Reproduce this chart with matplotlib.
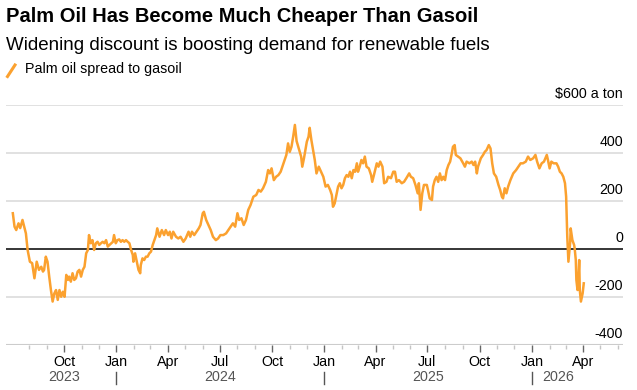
import matplotlib
matplotlib.use("Agg")
import matplotlib.pyplot as plt
import matplotlib.transforms as mtransforms
from matplotlib.lines import Line2D
import pandas as pd

plt.rcParams['font.family'] = ['Liberation Sans', 'DejaVu Sans']

# --- TEXT ---
TITLE = "Palm Oil Has Become Much Cheaper Than Gasoil"
SUBTITLE = "Widening discount is boosting demand for renewable fuels"
SERIES_LABEL = "Palm oil spread to gasoil"
UNIT_LABEL = r"\$600 a ton"

# --- DATA ($/ton) ---
dates = [
    "2023-07-03", "2023-07-06", "2023-07-09", "2023-07-13", "2023-07-16", "2023-07-20", "2023-07-23", "2023-07-26",
    "2023-07-29", "2023-08-02", "2023-08-06", "2023-08-10", "2023-08-14", "2023-08-18", "2023-08-22", "2023-08-25",
    "2023-08-27", "2023-08-30", "2023-09-02", "2023-09-05", "2023-09-08", "2023-09-11", "2023-09-14", "2023-09-17",
    "2023-09-20", "2023-09-23", "2023-09-26", "2023-09-29", "2023-10-02", "2023-10-05", "2023-10-08", "2023-10-10",
    "2023-10-13", "2023-10-16", "2023-10-19", "2023-10-22", "2023-10-25", "2023-10-28", "2023-10-31", "2023-11-03",
    "2023-11-06", "2023-11-09", "2023-11-12", "2023-11-14", "2023-11-17", "2023-11-20", "2023-11-23", "2023-11-26",
    "2023-11-29", "2023-12-02", "2023-12-05", "2023-12-08", "2023-12-11", "2023-12-14", "2023-12-17", "2023-12-20",
    "2023-12-26", "2023-12-28", "2023-12-31", "2024-01-03", "2024-01-06", "2024-01-09", "2024-01-12", "2024-01-15",
    "2024-01-18", "2024-01-21", "2024-01-24", "2024-01-27", "2024-01-30", "2024-01-31", "2024-02-03", "2024-02-06",
    "2024-02-09", "2024-02-12", "2024-02-13", "2024-02-16", "2024-02-19", "2024-02-22", "2024-02-25", "2024-02-28",
    "2024-03-02", "2024-03-05", "2024-03-08", "2024-03-11", "2024-03-13", "2024-03-17", "2024-03-21", "2024-03-25",
    "2024-03-28", "2024-04-01", "2024-04-04", "2024-04-07", "2024-04-10", "2024-04-15", "2024-04-19", "2024-04-23",
    "2024-04-28", "2024-05-02", "2024-05-07", "2024-05-10", "2024-05-13", "2024-05-17", "2024-05-21", "2024-05-25",
    "2024-05-28", "2024-06-01", "2024-06-03", "2024-06-07", "2024-06-11", "2024-06-15", "2024-06-19", "2024-06-24",
    "2024-06-28", "2024-07-02", "2024-07-07", "2024-07-12", "2024-07-16", "2024-07-20", "2024-07-24", "2024-07-28",
    "2024-08-01", "2024-08-04", "2024-08-08", "2024-08-12", "2024-08-16", "2024-08-20", "2024-08-24", "2024-08-29",
    "2024-09-03", "2024-09-07", "2024-09-11", "2024-09-15", "2024-09-20", "2024-09-24", "2024-09-27", "2024-09-30",
    "2024-10-04", "2024-10-08", "2024-10-12", "2024-10-16", "2024-10-19", "2024-10-23", "2024-10-26", "2024-10-29",
    "2024-11-01", "2024-11-04", "2024-11-07", "2024-11-10", "2024-11-13", "2024-11-16", "2024-11-19", "2024-11-21",
    "2024-11-23", "2024-11-26", "2024-12-01", "2024-12-04", "2024-12-06", "2024-12-09", "2024-12-12", "2024-12-15",
    "2024-12-18", "2024-12-22", "2024-12-26", "2024-12-30", "2025-01-03", "2025-01-07", "2025-01-11", "2025-01-14",
    "2025-01-16", "2025-01-19", "2025-01-22", "2025-01-25", "2025-01-28", "2025-01-31", "2025-02-03", "2025-02-06",
    "2025-02-09", "2025-02-12", "2025-02-15", "2025-02-18", "2025-02-21", "2025-02-24", "2025-02-27", "2025-03-01",
    "2025-03-04", "2025-03-07", "2025-03-10", "2025-03-13", "2025-03-16", "2025-03-20", "2025-03-24", "2025-03-26",
    "2025-03-29", "2025-04-03", "2025-04-06", "2025-04-09", "2025-04-13", "2025-04-16", "2025-04-20", "2025-04-23",
    "2025-04-28", "2025-05-02", "2025-05-05", "2025-05-08", "2025-05-12", "2025-05-17", "2025-05-21", "2025-05-25",
    "2025-05-30", "2025-06-02", "2025-06-06", "2025-06-10", "2025-06-14", "2025-06-16", "2025-06-19", "2025-06-22",
    "2025-06-25", "2025-06-30", "2025-07-02", "2025-07-05", "2025-07-09", "2025-07-11", "2025-07-14", "2025-07-17",
    "2025-07-20", "2025-07-23", "2025-07-26", "2025-07-29", "2025-08-01", "2025-08-04", "2025-08-07", "2025-08-10",
    "2025-08-13", "2025-08-15", "2025-08-18", "2025-08-20", "2025-08-24", "2025-08-28", "2025-09-02", "2025-09-05",
    "2025-09-08", "2025-09-13", "2025-09-17", "2025-09-20", "2025-09-23", "2025-09-26", "2025-09-28", "2025-10-03",
    "2025-10-07", "2025-10-10", "2025-10-13", "2025-10-17", "2025-10-20", "2025-10-23", "2025-10-26", "2025-10-30",
    "2025-11-03", "2025-11-06", "2025-11-09", "2025-11-11", "2025-11-14", "2025-11-17", "2025-11-20", "2025-11-24",
    "2025-11-29", "2025-12-04", "2025-12-08", "2025-12-12", "2025-12-16", "2025-12-21", "2025-12-25", "2025-12-29",
    "2026-01-03", "2026-01-07", "2026-01-10", "2026-01-14", "2026-01-18", "2026-01-22", "2026-01-27", "2026-01-29",
    "2026-02-01", "2026-02-04", "2026-02-08", "2026-02-13", "2026-02-16", "2026-02-19", "2026-02-22", "2026-02-25",
    "2026-02-28", "2026-03-02", "2026-03-03", "2026-03-04", "2026-03-06", "2026-03-09", "2026-03-10", "2026-03-13",
    "2026-03-16", "2026-03-17", "2026-03-19", "2026-03-20", "2026-03-22", "2026-03-24", "2026-03-25", "2026-03-26",
    "2026-03-28", "2026-03-31", "2026-04-02",
]
spread = [
    149, 93, 79, 107, 87, 121, 93, 65,
    -4, -53, -59, -122, -53, -87, -74, -94,
    -87, -32, -53, -115, -171, -219, -185, -171,
    -212, -171, -199, -178, -199, -108, -129, -115,
    -136, -101, -129, -122, -94, -87, -115, -87,
    -74, -18, -4, 58, 24, 37, -4, 24,
    30, 17, 24, 30, 24, 37, 10, 17,
    30, 58, 24, 37, 40, 30, 37, 30,
    37, 30, 24, -4, -25, -53, -18, -53,
    -87, -101, -67, -39, -46, -32, -32, -18,
    -11, 17, 37, 58, 86, 51, 79, 58,
    79, 58, 72, 44, 72, 51, 44, 51,
    30, 44, 72, 51, 72, 58, 72, 86,
    100, 149, 155, 121, 100, 79, 51, 37,
    44, 58, 58, 65, 79, 93, 107, 93,
    149, 121, 128, 100, 121, 163, 183, 218,
    225, 246, 239, 253, 280, 329, 315, 336,
    287, 301, 308, 322, 343, 371, 392, 440,
    405, 426, 468, 517, 450, 426, 402, 385,
    343, 378, 447, 468, 505, 454, 412, 371,
    315, 343, 322, 301, 260, 267, 246, 225,
    176, 190, 225, 260, 274, 253, 267, 295,
    308, 301, 322, 295, 329, 322, 357, 322,
    343, 371, 357, 385, 343, 336, 308, 280,
    308, 357, 343, 364, 343, 274, 280, 301,
    295, 322, 322, 280, 287, 274, 280, 295,
    315, 301, 295, 267, 232, 274, 163, 232,
    267, 267, 246, 211, 204, 260, 287, 301,
    280, 315, 287, 301, 287, 329, 350, 364,
    399, 426, 433, 392, 385, 378, 357, 343,
    364, 357, 364, 350, 364, 315, 343, 378,
    392, 405, 412, 433, 419, 357, 315, 301,
    267, 246, 218, 211, 253, 232, 260, 287,
    315, 329, 343, 357, 357, 364, 385, 371,
    378, 392, 364, 336, 357, 364, 392, 371,
    336, 364, 357, 357, 343, 322, 315, 301,
    274, 218, 135, 51, -53, 24, 86, 37,
    17, 3, -46, -129, -171, -101, -46, -171,
    -219, -185, -143,
]

y_levels = [-400, -200, 0, 200, 400, 600]
years = [2023, 2024, 2025, 2026]

ORANGE = '#fba12f'
GRID = '#d9d9d9'
W, H = 637, 390

fig = plt.figure(figsize=(W / 100, H / 100), dpi=100)
ax = fig.add_axes([6 / W, 1 - 345 / H, 617 / W, 240 / H])

x = pd.to_datetime(dates)
ax.plot(x, spread, color=ORANGE, lw=1.8, solid_joinstyle='round', zorder=3)

ax.set_ylim(-400, 600)
ax.set_xlim(pd.Timestamp('2023-06-21'), pd.Timestamp('2026-06-10'))

for s in ax.spines.values():
    s.set_visible(False)

# horizontal grid, zero line in black
for v in y_levels:
    if v == 0:
        ax.axhline(v, color='black', lw=1.1, zorder=2)
    elif v == -400:
        ax.axhline(v, color='#cccccc', lw=1.5, zorder=1)
    else:
        ax.axhline(v, color=GRID, lw=1.1, zorder=1)

# right side labels sit on top of the grid lines
ytrans = mtransforms.blended_transform_factory(ax.transAxes, ax.transData)
for v in y_levels:
    lab = UNIT_LABEL if v == 600 else f"{v}"
    ax.annotate(lab, xy=(1, v), xycoords=ytrans, xytext=(0, 3),
                textcoords='offset points', ha='right', va='bottom', fontsize=10.3)
ax.set_yticks([])

# month ticks
major = pd.date_range('2023-10-01', '2026-04-01', freq='3MS')
minor = pd.date_range('2023-08-01', '2026-06-01', freq='MS')
ax.set_xticks(major)
ax.set_xticklabels([d.strftime('%b') for d in major])
ax.set_xticks(minor, minor=True)
ax.tick_params(axis='x', which='major', length=5, width=1, color='#666666', pad=2, labelsize=10.3)
ax.tick_params(axis='x', which='minor', length=3, width=1, color='#c4c4c4')

# year labels centred on the span of data in each year
xtrans = mtransforms.blended_transform_factory(ax.transData, ax.transAxes)
for yr in years:
    a = max(x.min(), pd.Timestamp(f'{yr}-01-01'))
    b = min(x.max(), pd.Timestamp(f'{yr}-12-31'))
    ax.text(a + (b - a) / 2, -0.133, str(yr), transform=xtrans,
            ha='center', va='center', fontsize=10.3, color='#555555')
    if yr > years[0]:
        jan = pd.Timestamp(f'{yr}-01-01')
        ax.plot([jan, jan], [-0.1125, -0.1625], transform=xtrans,
                color='#555555', lw=1, clip_on=False)

# header
fig.text(6 / W, 1 - 17 / H, TITLE, fontsize=14.5, fontweight='bold', va='center')
fig.text(6 / W, 1 - 45 / H, SUBTITLE, fontsize=13.5, va='center')
fig.add_artist(Line2D([7.5 / W, 15 / W], [1 - 76.5 / H, 1 - 65 / H], color=ORANGE, lw=2.2))
fig.text(25 / W, 1 - 69 / H, SERIES_LABEL, fontsize=10.3, va='center')

fig.savefig('out.png', dpi=100)
